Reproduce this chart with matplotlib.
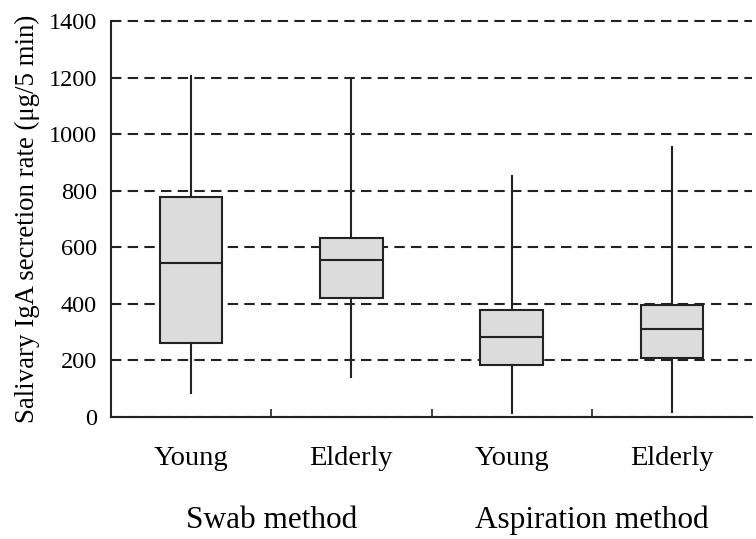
import matplotlib.pyplot as plt

plt.rcParams['font.family'] = ['Liberation Serif', 'DejaVu Serif']

groups = ['Swab method', 'Aspiration method']
categories = ['Young', 'Elderly', 'Young', 'Elderly']
whislo = [86, 142, 15, 19]
q1 = [260, 422, 184, 210]
med = [543, 554, 282, 311]
q3 = [778, 633, 378, 396]
whishi = [1205, 1200, 852, 954]

stats = []
for i in range(len(categories)):
    stats.append({'label': categories[i], 'whislo': whislo[i], 'q1': q1[i],
                  'med': med[i], 'q3': q3[i], 'whishi': whishi[i], 'fliers': []})

fig = plt.figure(figsize=(7.56, 5.39), dpi=100)
ax = fig.add_axes([0.1468, 0.2263, 0.848, 0.7347])

pos = [1, 2, 3, 4]
ax.bxp(stats, positions=pos, widths=0.39, showcaps=False, patch_artist=True,
       boxprops=dict(facecolor='#dcdcdc', edgecolor='#222222', linewidth=1.5),
       medianprops=dict(color='#222222', linewidth=1.5),
       whiskerprops=dict(color='#222222', linewidth=1.5))

ax.set_ylim(0, 1400)
ax.set_xlim(0.5, 4.5)
ax.set_yticks(range(0, 1401, 200))
ax.yaxis.grid(True, linestyle=(0, (5, 3)), color='#222222', linewidth=1.5)
ax.set_axisbelow(True)
ax.tick_params(axis='y', labelsize=17.5, direction='in', length=5, width=1.2,
               color='#222222', pad=10)
for gl in ax.get_ygridlines():
    gl.set_clip_on(False)

ax.set_xticks([1.5, 2.5, 3.5])
ax.set_xticklabels([])
ax.tick_params(axis='x', direction='in', length=6, width=1.2, color='#222222')

for s in ['top', 'right']:
    ax.spines[s].set_visible(False)
for s in ['left', 'bottom']:
    ax.spines[s].set_linewidth(1.5)
    ax.spines[s].set_color('#222222')

for p, c in zip(pos, categories):
    ax.text(p, -145, c, ha='center', va='center', fontsize=20.5)
for g, p in zip(groups, [1.5, 3.5]):
    ax.text(p, -365, g, ha='center', va='center', fontsize=22.5)

ax.set_ylabel('Salivary IgA secretion rate (μg/5 min)', fontsize=19.4, labelpad=6)

fig.savefig('out.png', dpi=100)
